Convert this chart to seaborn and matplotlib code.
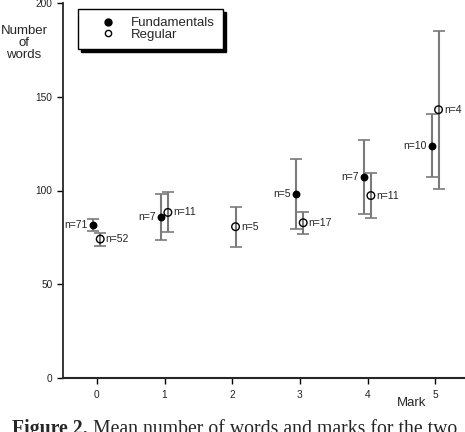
import numpy as np
import pandas as pd
import seaborn as sns
import matplotlib.pyplot as plt
from matplotlib.lines import Line2D

# values
fund_marks = [0, 1, 3, 4, 5]
fund_mean = [81.6, 85.7, 98.3, 107.0, 123.9]
fund_lo = [78.6, 73.6, 79.3, 87.3, 107.2]
fund_hi = [85.0, 98.1, 117.0, 126.9, 140.6]
fund_n = [71, 7, 5, 7, 10]

reg_marks = [0, 1, 2, 3, 4, 5]
reg_mean = [74.1, 88.3, 80.7, 82.8, 97.3, 143.1]
reg_lo = [70.4, 77.9, 70.0, 76.8, 85.2, 101.0]
reg_hi = [77.5, 99.0, 91.0, 88.7, 109.5, 185.1]
reg_n = [52, 11, 5, 17, 11, 4]

yticks = [0, 50, 100, 150, 200]

sns.set_style("ticks")
plt.rcParams['font.family'] = ['Liberation Sans', 'DejaVu Sans']

fund = pd.DataFrame({"x": np.array(fund_marks) - 0.05, "mean": fund_mean,
                     "lo": fund_lo, "hi": fund_hi, "n": fund_n})
reg = pd.DataFrame({"x": np.array(reg_marks) + 0.05, "mean": reg_mean,
                    "lo": reg_lo, "hi": reg_hi, "n": reg_n})

fig = plt.figure(figsize=(4.65, 4.32), dpi=100)
ax = fig.add_axes([63/465, 1-378/432, (469-63)/465, (378-3)/432])

# error bars: grey stems, black caps
for d in [fund, reg]:
    eb = ax.errorbar(d["x"], d["mean"], yerr=[d["mean"]-d["lo"], d["hi"]-d["mean"]],
                     fmt="none", ecolor="#7a7a7a", elinewidth=1.5, capsize=4.5,
                     capthick=1.2, zorder=2)
    for c in eb[1]:
        c.set_color("black")

sns.scatterplot(data=fund, x="x", y="mean", color="black", s=32, linewidth=0,
                ax=ax, zorder=3)
sns.scatterplot(data=reg, x="x", y="mean", color="black", s=30, linewidth=1,
                ax=ax, zorder=3)
ax.collections[-1].set_facecolor("none")
ax.collections[-1].set_edgecolor("black")

for _, r in fund.iterrows():
    ax.annotate(f"n={int(r['n'])}", (r["x"], r["mean"]), xytext=(-4, 0),
                textcoords="offset points", ha="right", va="center", fontsize=7.5,
                color="#222222")
for _, r in reg.iterrows():
    ax.annotate(f"n={int(r['n'])}", (r["x"], r["mean"]), xytext=(4, 0),
                textcoords="offset points", ha="left", va="center", fontsize=7.5,
                color="#222222")

ax.set_xlim(-0.5, 5.5)
ax.set_ylim(0, 200)
ax.set_xticks(range(6))
ax.set_yticks(yticks)
ax.tick_params(labelsize=7.3, length=4, width=1, color="black", labelcolor="#222222")
ax.tick_params(axis="x", pad=5)
ax.set_xlabel("")
ax.set_ylabel("")
sns.despine(ax=ax)
ax.spines["left"].set_linewidth(1.3)
ax.spines["bottom"].set_linewidth(1.5)

fig.text(24/465, 1-25/432, "Number\nof\nwords", ha="center", va="top",
         fontsize=9.5, linespacing=1.0)
fig.text(426/465, 1-403/432, "Mark", ha="right", va="center", fontsize=9.5)

# legend
handles = [Line2D([], [], marker="o", ls="none", color="black", markersize=5),
           Line2D([], [], marker="o", ls="none", markerfacecolor="none",
                  markeredgecolor="black", markersize=4.5)]
fig.legend(handles, ["Fundamentals", "Regular"], loc="upper left",
           bbox_to_anchor=(78/465, 1-9/432), borderaxespad=0, frameon=True,
           fancybox=False, edgecolor="black", framealpha=1, fontsize=9.5,
           handletextpad=0.0, borderpad=0.6, labelspacing=-0.05, handlelength=3.4,
           shadow={"ox": 2.5, "oy": -2.5, "color": "black", "alpha": 1})

# caption, cut by the bottom edge as in the source
t = fig.text(12/465, 1-434/432, "Figure 2.", fontsize=14.2, fontweight="bold",
             family="Liberation Serif", va="baseline")
ax.annotate(" Mean number of words and marks for the two", xy=(1, 1-434/432),
            xycoords=(t, "figure fraction"), fontsize=14.2,
            family="Liberation Serif", va="baseline", annotation_clip=False)

fig.savefig("out.png", dpi=100)
